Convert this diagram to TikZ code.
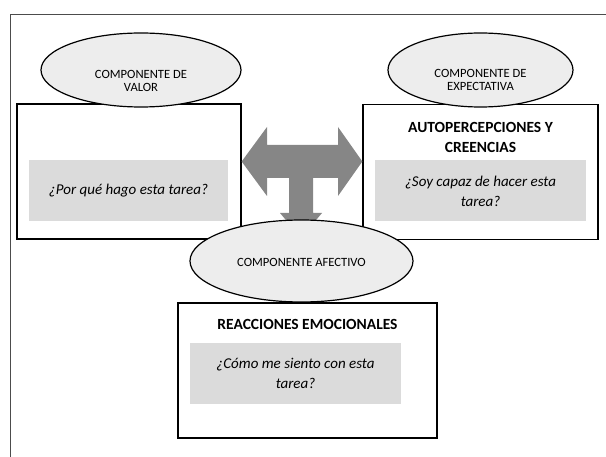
\documentclass[tikz,border=0pt]{standalone}
\usepackage{fontspec}
\setmainfont{Carlito}
\usetikzlibrary{shapes.geometric,calc}

\begin{document}
\begin{tikzpicture}[x=1pt, y=-1pt,
    caja/.style={draw, line width=1.3pt, minimum width=#1, minimum height=135pt},
    gris/.style={fill=gray!28, minimum width=#1, minimum height=61pt, align=center,
        font=\itshape\fontsize{15}{20}\selectfont},
    elipse/.style={ellipse, draw, line width=1.2pt, fill=gray!14, inner sep=0pt},
    rotulo/.style={align=center, font=\fontsize{12.6}{13.5}\selectfont},
    titulo/.style={align=center, font=\bfseries\fontsize{15.5}{20}\selectfont},
    flecha/.style={fill=gray!95}]

    \useasboundingbox (0,0) rectangle (606,457);
    % marco
    \draw[line width=0.8pt, gray!60!black] (606,14) -- (10,14) -- (10,457);

    % cajas
    \node[caja=224pt] (valor) at (129,171.5) {};
    \node[caja=235pt] (expect) at (480.5,172) {};
    \node[caja=259pt] (afect) at (307.5,370.5) {};

    % preguntas
    \node[gris=199pt] (pvalor) at (128.5,191) {¿Por qué hago esta tarea?};
    \node[gris=211pt] (pexpect) at (480.5,191) {¿Soy capaz de hacer esta\\tarea?};
    \node[gris=211pt] (pafect) at (295.5,373.5) {¿Cómo me siento con esta\\tarea?};

    \node[titulo] (texpect) at (480.5,137) {AUTOPERCEPCIONES Y\\CREENCIAS};
    \node[titulo] (tafect) at (307.5,324) {REACCIONES EMOCIONALES};

    % flecha en T
    \coordinate (cruce) at (301,161.5);
    \fill[flecha] (valor.east |- cruce) -- (267,127) -- (267,145) -- (338,145)
        -- (338,127) -- (expect.west |- cruce) -- (338,196) -- (338,178)
        -- (313,178) -- (313,213) -- (322,213) -- (301,238) -- (280,213)
        -- (289,213) -- (289,178) -- (267,178) -- (267,196) -- cycle;

    % componentes
    \node[elipse, minimum width=200pt, minimum height=74pt] (evalor) at (141,70) {};
    \node[elipse, minimum width=185pt, minimum height=74pt] (eexpect) at (480.5,70) {};
    \node[elipse, minimum width=223pt, minimum height=82pt] (eafect) at (301.5,261) {};
    \node[rotulo] (rvalor) at ($(evalor)+(0,11)$) {COMPONENTE DE\\VALOR};
    \node[rotulo] (rexpect) at ($(eexpect)+(0,10)$) {COMPONENTE DE\\EXPECTATIVA};
    \node[rotulo] (rafect) at ($(eafect)+(0,1)$) {COMPONENTE AFECTIVO};

\end{tikzpicture}
\end{document}
